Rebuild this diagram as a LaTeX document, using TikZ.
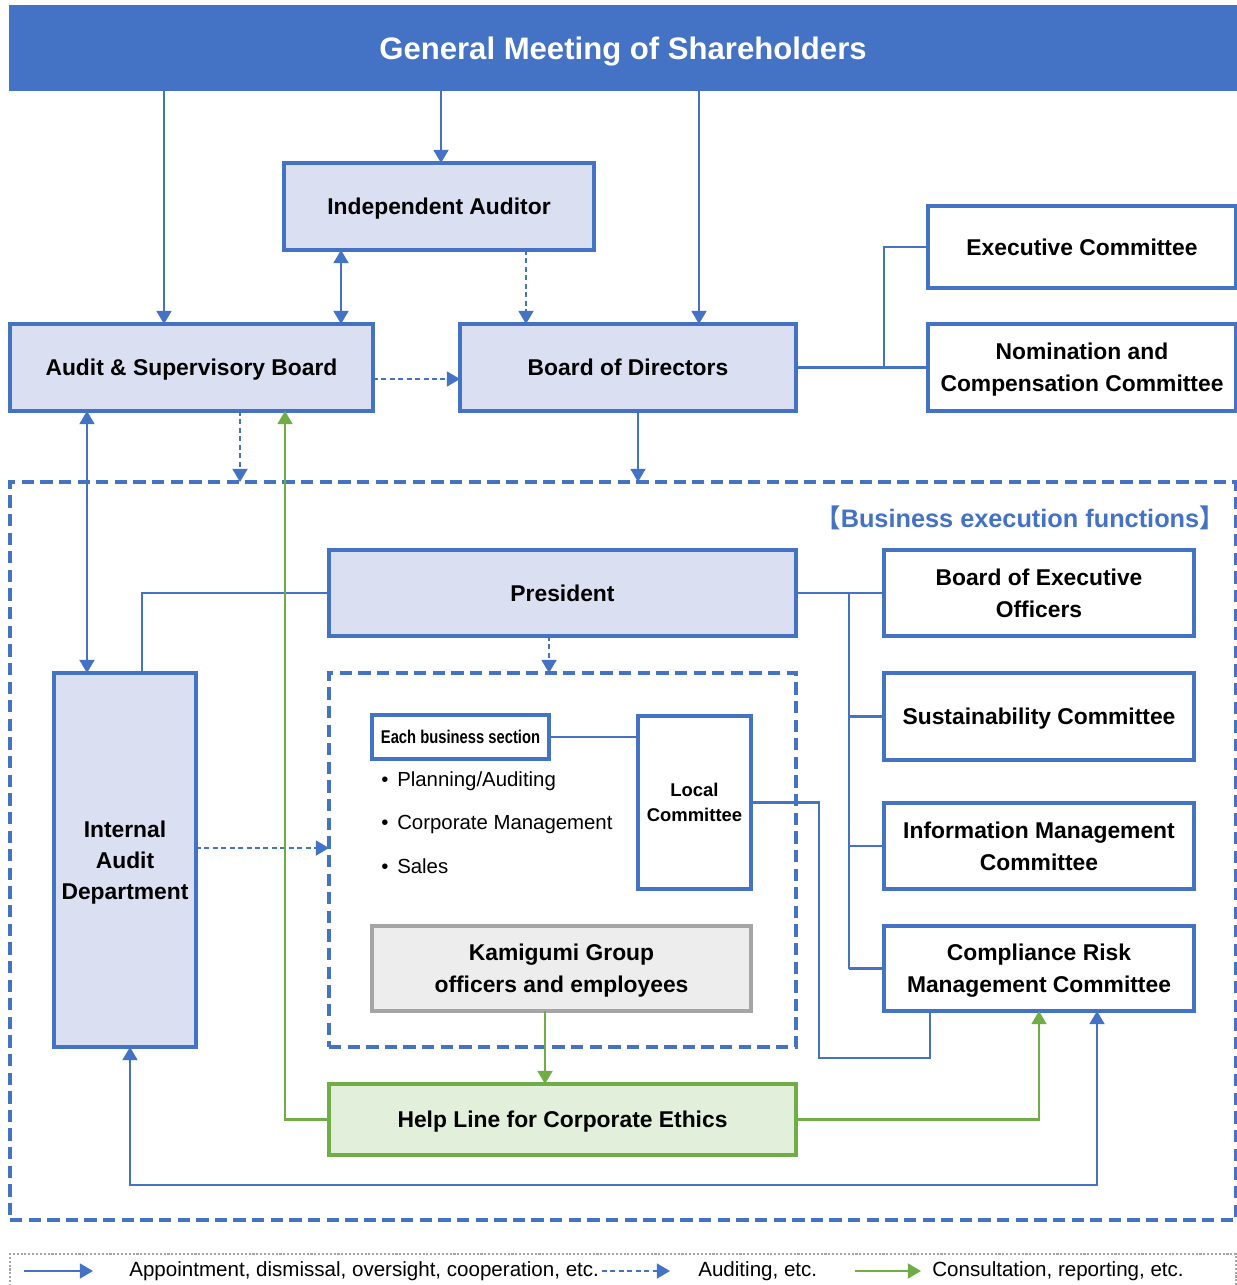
\documentclass[tikz,border=0pt]{standalone}
\usepackage{fontspec}
\setmainfont{Liberation Sans}
\newfontfamily\cjkf{Noto Sans CJK JP}
\usetikzlibrary{arrows.meta,calc}
\definecolor{myblue}{HTML}{4472C4}
\definecolor{lightfill}{HTML}{DAE0F2}
\definecolor{mygreen}{HTML}{70AD47}
\definecolor{greenfill}{HTML}{E2EFDA}
\definecolor{grayfill}{HTML}{EDEDED}
\definecolor{grayline}{HTML}{A5A5A5}
% box from (x1,y1) to (x2,y2), pixel units
\newcommand\bnode[6]{\node[#1, minimum width={(#4-#2)*0.02cm}, minimum height={(#5-#3)*0.02cm}] (#6) at ({(#2+#4)/2},{(#3+#5)/2})}
\begin{document}
\begin{tikzpicture}[x=0.02cm,y=-0.02cm,
 base/.style={inner sep=0pt, outer sep=0pt, align=center, font=\fontsize{13}{18}\selectfont\bfseries, line width=2pt, text depth=0pt},
 lbox/.style={base, draw=myblue, fill=lightfill},
 wbox/.style={base, draw=myblue, fill=white},
 dbox/.style={draw=myblue, line width=1.8pt, dash pattern=on 7pt off 3.6pt, inner sep=0pt, outer sep=0pt},
 conn/.style={draw=myblue, line width=1.2pt},
 arr/.style={conn, -{Triangle[width=8.5pt,length=7.5pt]}},
 darr/.style={conn, {Triangle[width=8.5pt,length=7.5pt]}-{Triangle[width=8.5pt,length=7.5pt]}},
 dasharr/.style={arr, dash pattern=on 2.8pt off 2pt},
 garr/.style={draw=mygreen, line width=1.2pt, -{Triangle[width=8.5pt,length=7.5pt]}},
 legtext/.style={anchor=west, inner sep=0pt, font=\fontsize{11.7}{14}\selectfont},
 bullet/.style={anchor=west, inner sep=0pt, font=\fontsize{11.6}{14}\selectfont}
]
\useasboundingbox (0,0) rectangle (1237,1285);
\clip (0,0) rectangle (1237,1285);
\fill[white] (0,0) rectangle (1237,1285);

% column / row coordinates
\foreach \xx in {87,130,142,164,240,285,341,441,526,545,549,638,699,819,849,884,930,1039,1097}
  {\coordinate (x\xx) at (\xx,0);}
\foreach \yy in {379,848,1058,1185}
  {\coordinate (y\yy) at (0,\yy);}

% top level
\bnode{inner sep=0pt, outer sep=0pt, fill=myblue, text=white, text depth=0pt, font=\fontsize{17.7}{20}\selectfont\bfseries}{9}{5}{1237}{91}{gm} {General Meeting of Shareholders};
\bnode{lbox}{284}{163}{594}{250}{ia} {Independent Auditor};
\bnode{lbox}{10}{324}{373}{411}{asb} {Audit \& Supervisory Board};
\bnode{lbox}{460}{324}{796}{411}{bod} {Board of Directors};
\bnode{wbox}{928}{206}{1236}{288}{exe} {Executive Committee};
\bnode{wbox}{928}{324}{1236}{411}{nom} {Nomination and\\Compensation Committee};

% business execution area
\bnode{dbox}{10}{482}{1236}{1220}{outer} {};
\node[text=myblue, inner sep=0pt, font=\fontsize{14.4}{16}\selectfont\bfseries] (bef) at (1020,518)
  {{\cjkf 【}Business execution functions{\cjkf 】}};
\bnode{lbox}{329}{550}{796}{636}{pres} {President};
\bnode{wbox}{884}{550}{1194}{636}{beo} {Board of Executive\\Officers};
\bnode{wbox}{884}{673}{1194}{760}{sus} {Sustainability Committee};
\bnode{wbox}{884}{803}{1194}{889}{imc} {Information Management\\Committee};
\bnode{wbox}{884}{926}{1194}{1011}{crm} {Compliance Risk\\Management Committee};
\bnode{lbox, font=\fontsize{13}{17.6}\selectfont\bfseries}{54}{673}{196}{1047}{iad} {Internal\\Audit\\Department};
\bnode{dbox}{329}{673}{796}{1047}{inner} {};
\bnode{wbox, font=\fontsize{10.5}{12}\selectfont\bfseries}{372}{715}{549}{759}{ebs}
  {\scalebox{0.8}[1]{Each business section}};
\node[bullet] (b1) at (381,781) {•\hspace{5pt}Planning/Auditing};
\node[bullet] (b2) at (381,824) {•\hspace{5pt}Corporate Management};
\node[bullet] (b3) at (381,866) {•\hspace{5pt}Sales};
\bnode{wbox, font=\fontsize{10.5}{14}\selectfont\bfseries}{638}{716}{751}{889}{loc} {Local\\Committee};
\bnode{base, draw=grayline, fill=grayfill}{372}{926}{751}{1011}{kam} {Kamigumi Group\\officers and employees};
\bnode{base, draw=mygreen, fill=greenfill}{329}{1084}{796}{1155}{help} {Help Line for Corporate Ethics};

% connectors (top)
\draw[arr] (gm.south -| x164) -- (asb.north -| x164);
\draw[arr] (gm.south -| x441) -- (ia.north -| x441);
\draw[arr] (gm.south -| x699) -- (bod.north -| x699);
\draw[darr] (ia.south -| x341) -- (asb.north -| x341);
\draw[dasharr] (ia.south -| x526) -- (bod.north -| x526);
\draw[dasharr] (asb.east |- y379) -- (bod.west |- y379);
\draw[dasharr] (asb.south -| x240) -- (outer.north -| x240);
\draw[arr] (bod.south -| x638) -- (outer.north -| x638);
\draw[conn] (bod.east) -- (nom.west);
\draw[conn] (exe.west) -- (exe.west -| x884) -- (bod.east -| x884);

% connectors (execution)
\draw[conn] (pres.east) -- (beo.west);
\draw[conn] (beo.west -| x849) -- (crm.west -| x849);
\draw[conn] (sus.west -| x849) -- (sus.west);
\draw[conn] (imc.west -| x849) -- (imc.west);
\draw[conn] (crm.west -| x849) -- (crm.west);
\draw[darr] (asb.south -| x87) -- (iad.north -| x87);
\draw[conn] (pres.west) -| (iad.north -| x142);
\draw[dasharr] (pres.south -| x549) -- (inner.north -| x549);
\draw[dasharr] (iad.east |- y848) -- (inner.west |- y848);
\draw[conn] (ebs.east) -- (ebs.east -| loc.west);
\draw[conn] (loc.east) -| (x819 |- y1058) -| (crm.south -| x930);
\draw[garr] (kam.south -| x545) -- (help.north -| x545);
\draw[garr] (help.west) -| (asb.south -| x285);
\draw[garr] (help.east) -| (crm.south -| x1039);
\draw[darr] (iad.south -| x130) |- (x1097 |- y1185) -- (crm.south -| x1097);

% legend
\bnode{draw=grayline, densely dotted, line width=1.2pt, inner sep=0pt}{10}{1254}{1236}{1300}{leg} {};
\coordinate (l1a) at (24,1271); \coordinate (l1b) at (93,1271);
\coordinate (l2a) at (602,1271); \coordinate (l2b) at (670,1271);
\coordinate (l3a) at (855,1271); \coordinate (l3b) at (921,1271);
\draw[arr] (l1a) -- (l1b);
\draw[dasharr] (l2a) -- (l2b);
\draw[garr] (l3a) -- (l3b);
\node[legtext] (t1) at (129,1271) {Appointment, dismissal, oversight, cooperation, etc.};
\node[legtext] (t2) at (698,1271) {Auditing, etc.};
\node[legtext] (t3) at (932,1271) {Consultation, reporting, etc.};
\end{tikzpicture}
\end{document}
